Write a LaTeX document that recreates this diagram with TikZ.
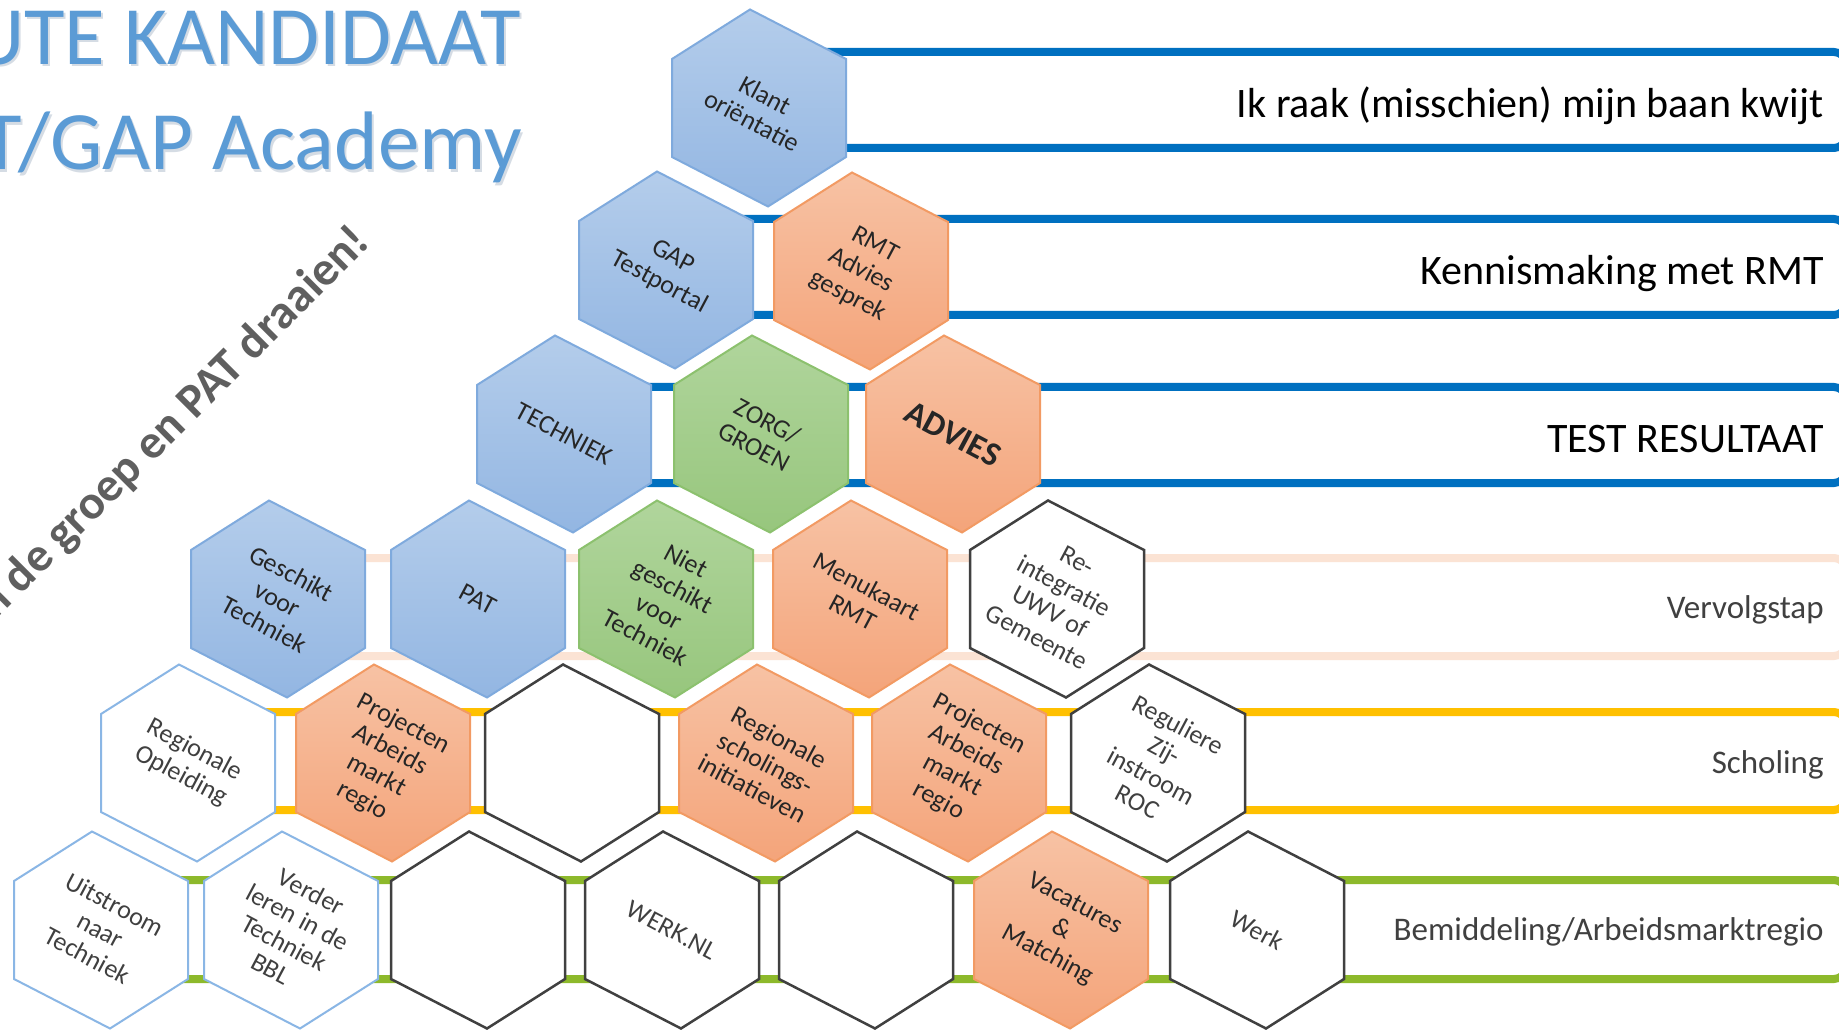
\documentclass[tikz,border=0pt]{standalone}
\usepackage{fontspec}
\setmainfont{Carlito}
\definecolor{BandBlue}{HTML}{0070C0}
\definecolor{BandPeach}{HTML}{FBE3D4}
\definecolor{BandGold}{HTML}{FFC000}
\definecolor{BandGreen}{HTML}{8DB92B}
\definecolor{HexBlueT}{HTML}{B4CDEB}
\definecolor{HexBlueB}{HTML}{93B6E2}
\definecolor{HexBlueL}{HTML}{7FAADD}
\definecolor{HexGreenT}{HTML}{B0D59C}
\definecolor{HexGreenB}{HTML}{97C67D}
\definecolor{HexGreenL}{HTML}{8CC16E}
\definecolor{HexOrT}{HTML}{F7C2A4}
\definecolor{HexOrB}{HTML}{F4A47A}
\definecolor{HexOrL}{HTML}{F29A63}
\definecolor{HexDarkL}{HTML}{404040}
\definecolor{HexLtBlueL}{HTML}{8AB6E5}
\definecolor{TitleBlue}{HTML}{5B9BD5}
\definecolor{TitleShadow}{HTML}{D5DCE4}
\definecolor{SloganGray}{HTML}{5F5F5F}
\definecolor{TxtDark}{HTML}{262626}
\definecolor{TxtGray}{HTML}{404040}
\tikzset{
  hexblue/.style={top color=HexBlueT, bottom color=HexBlueB, draw=HexBlueL, line width=1pt},
  hexgreen/.style={top color=HexGreenT, bottom color=HexGreenB, draw=HexGreenL, line width=1pt},
  hexorange/.style={top color=HexOrT, bottom color=HexOrB, draw=HexOrL, line width=1pt},
  hexdark/.style={fill=white, draw=HexDarkL, line width=1.25pt},
  hexlight/.style={fill=white, draw=HexLtBlueL, line width=1pt},
  hextext/.style={align=center, rotate=-28, inner sep=0pt, font=\fontsize{13}{14.5}\selectfont},
  txtcol/.style={text=TxtDark},
  txtgrey/.style={text=TxtGray},
  bandbox/.style={fill=white, line width=4pt, rounded corners=6pt},
  bandbig/.style={anchor=base east, inner sep=0pt, text=black, font=\fontsize{21}{25}\selectfont},
  bandsmall/.style={anchor=base east, inner sep=0pt, text=TxtGray, font=\fontsize{16.5}{20}\selectfont},
  titletxt/.style={anchor=base east, inner sep=0pt, text=TitleBlue, font=\fontsize{41.5}{50}\selectfont},
  titleshadow/.style={anchor=base east, inner sep=0pt, text=TitleShadow, font=\fontsize{41.5}{50}\selectfont},
  slogantxt/.style={anchor=base east, inner sep=0pt, rotate=45, text=SloganGray, font=\bfseries\fontsize{24}{28}\selectfont},
}
% #1 hex style, #2 text style, #3 x, #4 y, #5 name, #6 text
\newcommand\hexnode[6]{%
  \path[#1] (#3-9,#4-98.5) -- (#3+87,#4-49) -- (#3+87,#4+49) -- (#3+9,#4+98.5) -- (#3-87,#4+49) -- (#3-87,#4-49) -- cycle;
  \node[hextext,#2] (#5) at (#3,#4) {#6};
}
% #1 colour, #2 left x, #3 top y, #4 bottom y
\newcommand\bandrect[4]{%
  \draw[bandbox, draw=#1] (#2,#3) rectangle (1846,#4);
}
\begin{document}
\begin{tikzpicture}[x=0.5pt, y=-0.5pt]
\useasboundingbox (0,0) rectangle (1839,1031);
\clip (0,0) rectangle (1839,1031);
\fill[white] (0,0) rectangle (1839,1031);

% title
\node[titleshadow] at (523,67) {UTE KANDIDAAT};
\node[titletxt] (title1) at (521,64.5) {UTE KANDIDAAT};
\node[titleshadow] at (524,172.5) {T/GAP Academy};
\node[titletxt] (title2) at (522,170) {T/GAP Academy};

% slogan
\node[slogantxt] (slogan) at (372,244) {n de groep en PAT draaien!};

% bands
\bandrect{BandBlue}{759}{52}{148}
\bandrect{BandBlue}{666}{219}{315}
\bandrect{BandBlue}{564}{387}{483}
\bandrect{BandPeach}{278}{558}{656}
\bandrect{BandGold}{188}{712}{810}
\bandrect{BandGreen}{101}{880}{979}

\node[bandbig] (b1) at (1824,118) {Ik raak (misschien) mijn baan kwijt};
\node[bandbig] (b2) at (1824,284.5) {Kennismaking met RMT};
\node[bandbig] (b3) at (1824,452.5) {TEST RESULTAAT};
\node[bandsmall] (b4) at (1824,618.5) {Vervolgstap};
\node[bandsmall] (b5) at (1824,773.5) {Scholing};
\node[bandsmall] (b6) at (1824,940) {Bemiddeling/Arbeidsmarktregio};

% row 1
\hexnode{hexblue}{txtcol}{759}{108}{klant}{Klant\\oriëntatie}
% row 2
\hexnode{hexblue}{txtcol}{666}{270}{gap}{GAP\\Testportal}
\hexnode{hexorange}{txtcol}{861}{271}{rmtadvies}{RMT\\Advies\\gesprek}
% row 3
\hexnode{hexblue}{txtcol}{564}{434}{techniek}{TECHNIEK}
\hexnode{hexgreen}{txtcol}{761}{434}{zorg}{ZORG/\\GROEN}
\hexnode{hexorange}{txtcol, font=\bfseries\fontsize{17}{20}\selectfont}{953}{434}{advies}{ADVIES}
% row 4
\hexnode{hexblue}{txtcol}{278}{599}{geschikt}{Geschikt\\voor\\Techniek}
\hexnode{hexblue}{txtcol}{478}{599}{pat}{PAT}
\hexnode{hexgreen}{txtcol}{666}{599}{niet}{Niet\\geschikt\\voor\\Techniek}
\hexnode{hexorange}{txtcol}{860}{599}{menukaart}{Menukaart\\RMT}
\hexnode{hexdark}{txtgrey}{1057}{599}{reintegratie}{Re-\\integratie\\UWV of\\Gemeente}
% row 5
\hexnode{hexlight}{txtgrey}{188}{763}{regopl}{Regionale\\Opleiding}
\hexnode{hexorange}{txtcol}{383}{763}{projA}{Projecten\\Arbeids\\markt\\regio}
\hexnode{hexdark}{txtgrey}{572}{763}{leegA}{}
\hexnode{hexorange}{txtcol}{766}{763}{regschol}{Regionale\\scholings-\\initiatieven}
\hexnode{hexorange}{txtcol}{959}{763}{projB}{Projecten\\Arbeids\\markt\\regio}
\hexnode{hexdark}{txtgrey}{1158}{763}{reguliere}{Reguliere\\Zij-\\instroom\\ROC}
% row 6
\hexnode{hexlight}{txtgrey}{101}{930}{uitstroom}{Uitstroom\\naar\\Techniek}
\hexnode{hexlight}{txtgrey}{291}{930}{verder}{Verder\\leren in de\\Techniek\\BBL}
\hexnode{hexdark}{txtgrey}{478}{930}{leegB}{}
\hexnode{hexdark}{txtgrey}{672}{930}{werknl}{WERK.NL}
\hexnode{hexdark}{txtgrey}{866}{930}{leegC}{}
\hexnode{hexorange}{txtcol}{1061}{930}{vacatures}{Vacatures\\\&\\Matching}
\hexnode{hexdark}{txtgrey}{1257}{930}{werk}{Werk}
\end{tikzpicture}
\end{document}
